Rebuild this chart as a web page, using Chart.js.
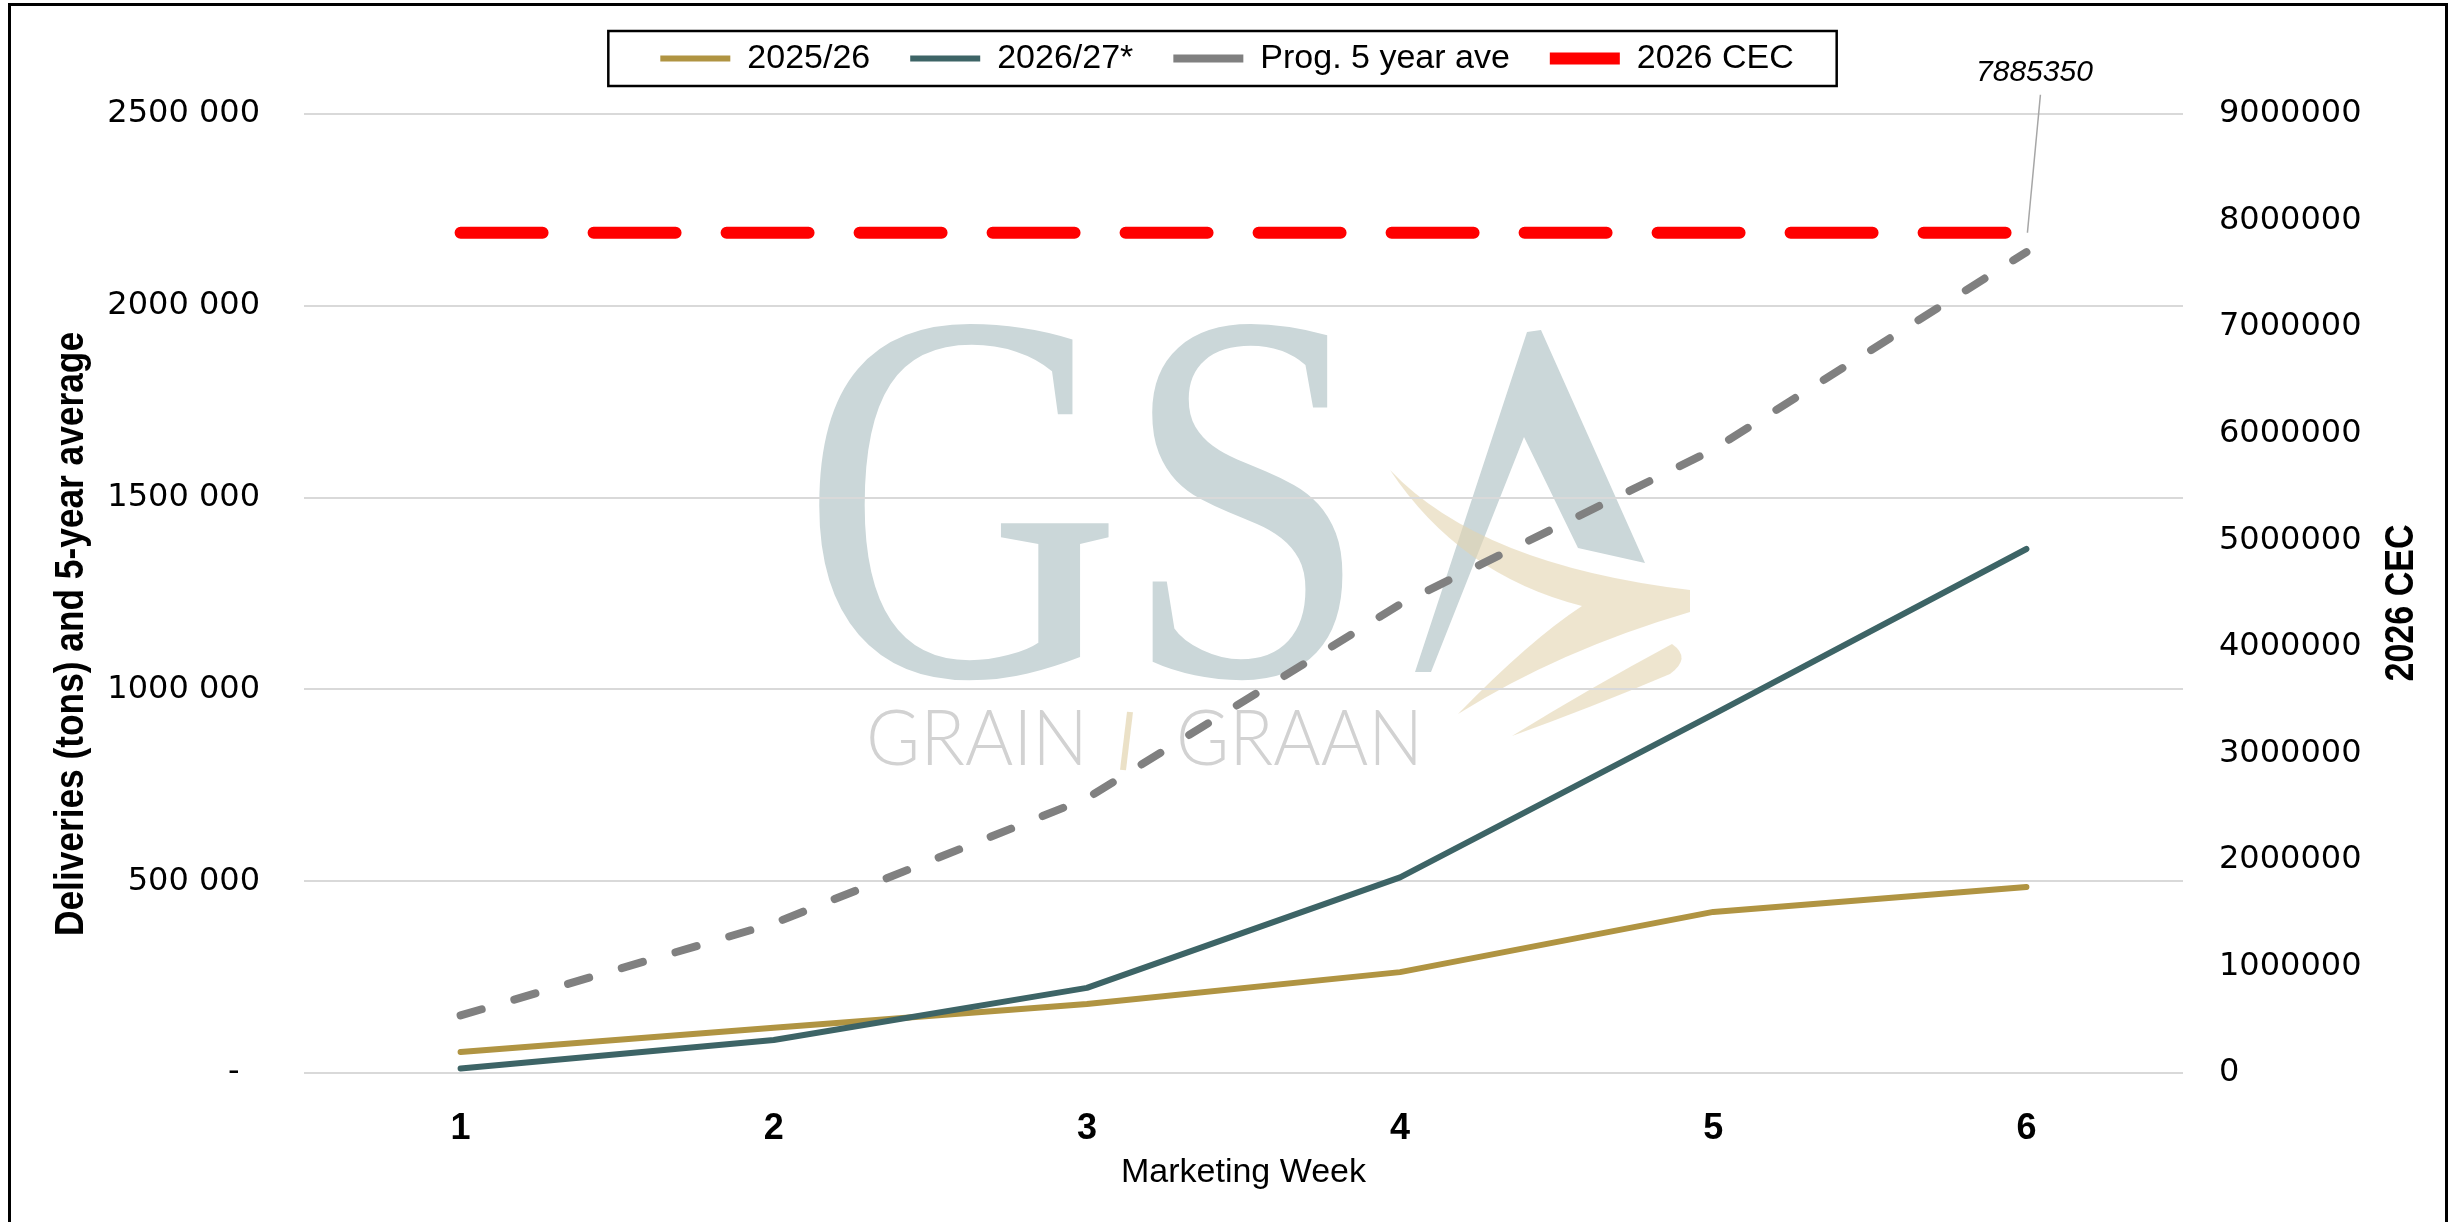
<!DOCTYPE html>
<html>
<head>
<meta charset="utf-8">
<script src="https://cdn.jsdelivr.net/npm/chart.js@4.4.1/dist/chart.umd.min.js"></script>
<style>
  html, body { margin: 0; padding: 0; background: #fff; }
</style>
</head>
<body>
<canvas id="chart" width="2454" height="1222"></canvas>
<script>
const weeks = ['1', '2', '3', '4', '5', '6'];
const season2526 = [55000, 118000, 180000, 263000, 420000, 485000];
const season2627 = [12000, 86000, 222000, 510000, 935000, 1366000];
const fiveYearAve = [150000, 390000, 716000, 1222000, 1625000, 2140000];
const cec2026 = [7885350, 7885350, 7885350, 7885350, 7885350, 7885350];
const leftTickLabels = ['-  ', '500 000', '1000 000', '1500 000', '2000 000', '2500 000'];
const rightTickLabels = ['0', '1000000', '2000000', '3000000', '4000000', '5000000',
  '6000000', '7000000', '8000000', '9000000'];

const gold = '#b09442';
const teal = '#3d6466';
const grey = '#808080';
const red = '#ff0000';
const gridGrey = '#d9d9d9';
const sans = '"Liberation Sans", Arial, sans-serif';
const wide = '"DejaVu Sans", sans-serif';

// draws text squeezed along its own direction to a given length
function squeezedText(ctx, text, x, y, length, angle) {
  const w = ctx.measureText(text).width;
  ctx.save();
  ctx.translate(x, y);
  ctx.rotate(angle);
  ctx.scale(length / w, 1);
  ctx.fillText(text, 0, 0);
  ctx.restore();
}

const watermark = {
  id: 'watermark',
  beforeDraw(chart) {
    const { ctx } = chart;
    ctx.save();
    ctx.fillStyle = '#fff';
    ctx.fillRect(0, 0, chart.width, chart.height);

    // "GS" squeezed into the logo width
    ctx.fillStyle = '#cbd7d9';
    ctx.font = '530px "Liberation Serif", serif';
    ctx.textBaseline = 'alphabetic';
    ctx.textAlign = 'left';
    squeezedText(ctx, 'GS', 801, 675, 569, 0);

    // stylised A
    ctx.beginPath();
    ctx.moveTo(1527, 332);
    ctx.lineTo(1541, 330);
    ctx.lineTo(1645, 563);
    ctx.lineTo(1578, 548);
    ctx.lineTo(1524, 437);
    ctx.lineTo(1431, 672);
    ctx.lineTo(1415, 672);
    ctx.closePath();
    ctx.fill();

    // tan swoosh
    ctx.fillStyle = 'rgba(226, 212, 175, 0.6)';
    ctx.beginPath();
    ctx.moveTo(1390, 470);
    ctx.quadraticCurveTo(1480, 565, 1690, 590);
    ctx.lineTo(1690, 612);
    ctx.quadraticCurveTo(1560, 650, 1458, 714);
    ctx.quadraticCurveTo(1530, 640, 1582, 606);
    ctx.quadraticCurveTo(1460, 575, 1390, 470);
    ctx.closePath();
    ctx.fill();
    ctx.beginPath();
    ctx.moveTo(1672, 644);
    ctx.quadraticCurveTo(1692, 658, 1670, 674);
    ctx.quadraticCurveTo(1590, 708, 1512, 736);
    ctx.quadraticCurveTo(1590, 688, 1672, 644);
    ctx.closePath();
    ctx.fill();

    // GRAIN | GRAAN
    ctx.fillStyle = '#d2d2d2';
    ctx.font = '300 76px Lato, sans-serif';
    squeezedText(ctx, 'GRAIN', 866, 765, 222, 0);
    squeezedText(ctx, 'GRAAN', 1176, 765, 247, 0);
    ctx.strokeStyle = 'rgba(226, 212, 175, 0.7)';
    ctx.lineWidth = 6;
    ctx.beginPath();
    ctx.moveTo(1130, 712);
    ctx.lineTo(1123, 770);
    ctx.stroke();
    ctx.restore();
  }
};

const decorations = {
  id: 'decorations',
  afterDatasetsDraw(chart) {
    const { ctx } = chart;
    const pt = chart.getDatasetMeta(3).data[5];
    ctx.save();
    ctx.strokeStyle = '#a6a6a6';
    ctx.lineWidth = 1.5;
    ctx.beginPath();
    ctx.moveTo(pt.x + 14, pt.y - 138);
    ctx.lineTo(pt.x + 1, pt.y);
    ctx.stroke();
    ctx.fillStyle = '#000';
    ctx.font = 'italic 30px ' + sans;
    ctx.textAlign = 'center';
    ctx.textBaseline = 'middle';
    ctx.fillText(String(cec2026[5]), pt.x + 8, pt.y - 160);
    ctx.restore();
  },
  afterDraw(chart) {
    const { ctx } = chart;
    ctx.save();
    // outer frame
    ctx.strokeStyle = '#000';
    ctx.lineWidth = 3;
    ctx.strokeRect(9.5, 4.5, 2437, 1300);

    // box around legend
    const boxes = chart.legend.legendHitBoxes;
    const first = boxes[0];
    const last = boxes[boxes.length - 1];
    const cy = first.top + first.height / 2;
    ctx.lineWidth = 2.5;
    ctx.strokeRect(first.left - 52, cy - 27.5, last.left + last.width + 43 - (first.left - 52), 55);

    // y axis titles, both reading bottom to top
    ctx.fillStyle = '#000';
    ctx.font = 'bold 40px ' + sans;
    ctx.textAlign = 'center';
    ctx.textBaseline = 'middle';
    squeezedText(ctx, 'Deliveries (tons) and 5-year average', 72, 634, 604, -Math.PI / 2);
    squeezedText(ctx, '2026 CEC', 2402, 603, 157, -Math.PI / 2);
    ctx.restore();
  }
};

const chart = new Chart(document.getElementById('chart'), {
  type: 'line',
  plugins: [ watermark, decorations ],
  data: {
    labels: weeks,
    datasets: [
      {
        label: '2025/26',
        data: season2526,
        borderColor: gold,
        backgroundColor: gold,
        borderWidth: 6,
        borderCapStyle: 'round',
        yAxisID: 'y',
        order: 2,
      },
      {
        label: '2026/27*',
        data: season2627,
        borderColor: teal,
        backgroundColor: teal,
        borderWidth: 6,
        borderCapStyle: 'round',
        yAxisID: 'y',
        order: 1,
      },
      {
        label: 'Prog. 5 year ave',
        data: fiveYearAve,
        borderColor: grey,
        backgroundColor: grey,
        borderWidth: 8,
        borderDash: [22, 34],
        borderCapStyle: 'round',
        yAxisID: 'y',
        order: 3,
      },
      {
        label: '2026 CEC',
        data: cec2026,
        borderColor: red,
        backgroundColor: red,
        borderWidth: 12,
        borderDash: [82, 51],
        borderCapStyle: 'round',
        yAxisID: 'y1',
        order: 4,
      }
    ]
  },
  options: {
    responsive: false,
    devicePixelRatio: 1,
    animation: false,
    elements: {
      point: { radius: 0, hoverRadius: 0 },
      line: { tension: 0, borderJoinStyle: 'round' },
    },
    layout: {
      padding: { top: 1.5, left: 0, right: 0, bottom: 0 },
    },
    scales: {
      x: {
        offset: true,
        grid: { display: false },
        border: { display: false },
        ticks: {
          padding: 26,
          color: '#000',
          font: { family: sans, weight: 'bold', size: 36 },
        },
        title: {
          display: true,
          text: 'Marketing Week',
          color: '#000',
          font: { family: sans, size: 34 },
          padding: { top: 0, bottom: 29 },
        },
        afterFit: (axis) => {
          axis.height = 149;
        }
      },
      y: {
        position: 'left',
        min: 0,
        max: 2500000,
        grid: {
          color: gridGrey,
          lineWidth: 2,
          drawTicks: false,
        },
        border: { display: false },
        ticks: {
          stepSize: 500000,
          padding: 44,
          color: '#000',
          font: { family: wide, size: 32 },
          callback: function(val, index) {
            return leftTickLabels[index];
          },
        },
        afterFit: (axis) => {
          axis.width = 304;
        }
      },
      y1: {
        position: 'right',
        min: 0,
        max: 9000000,
        grid: { display: false },
        border: { display: false },
        ticks: {
          stepSize: 1000000,
          padding: 28,
          color: '#000',
          font: { family: wide, size: 32 },
          callback: function(val, index) {
            return rightTickLabels[index];
          },
        },
        afterFit: (axis) => {
          axis.width = 271;
        }
      },
    },
    plugins: {
      tooltip: { enabled: false },
      // empty title used as a spacer between the legend and the plot
      title: {
        display: true,
        text: ' ',
        weight: 500,
        padding: 0,
        font: { size: 28.5, lineHeight: 1 },
      },
      legend: {
        position: 'top',
        labels: {
          usePointStyle: true,
          pointStyle: 'line',
          pointStyleWidth: 70,
          padding: 40,
          color: '#000',
          font: { family: sans, size: 34 },
          sort: (a, b) => a.datasetIndex - b.datasetIndex,
        },
      },
    },
  },
});
</script>
</body>
</html>
